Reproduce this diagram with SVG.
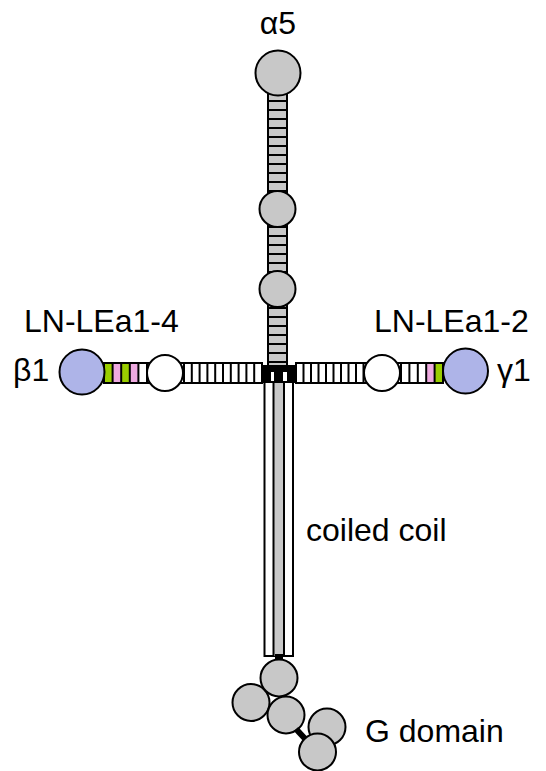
<svg xmlns="http://www.w3.org/2000/svg" width="546" height="771" viewBox="0 0 546 771">
  <style>
    .ln { stroke: #000; stroke-width: 2; fill: none; }
    .gy { fill: #c8c8c8; stroke: #000; stroke-width: 2; }
    .wt { fill: #fff; stroke: #000; stroke-width: 2; }
    .bl { fill: #aeb4e8; stroke: #000; stroke-width: 2; }
    .gn { fill: #9acd00; }
    .pk { fill: #eeaae0; }
    .lbl { font-family: "Liberation Sans", Arial, sans-serif; font-size: 32px; fill: #000; }
  </style>

  <!-- alpha5 chain: rod with rungs and three globular domains -->
  <g id="alpha5">
    <rect class="gy" x="268" y="92" width="19" height="274"/>
    <path class="ln" d="M268 101h19M268 110h19M268 119h19M268 128h19M268 137h19M268 146h19M268 155h19M268 164h19M268 173h19M268 182h19M268 191h19M268 200h19M268 209h19M268 218h19M268 227h19M268 236h19M268 245h19M268 254h19M268 263h19M268 272h19M268 281h19M268 290h19M268 299h19M268 308h19M268 317h19M268 326h19M268 335h19M268 344h19M268 353h19M268 362h19"/>
    <circle class="gy" cx="278" cy="73" r="22.5"/>
    <circle class="gy" cx="277.5" cy="209" r="18"/>
    <circle class="gy" cx="277.5" cy="289" r="18"/>
    <text class="lbl" x="278" y="34" text-anchor="middle">α5</text>
  </g>

  <!-- beta1 short arm -->
  <g id="beta1">
    <rect class="gn" x="104" y="363" width="8.6" height="20"/>
    <rect class="pk" x="112.6" y="363" width="8.6" height="20"/>
    <rect class="gn" x="121.2" y="363" width="8.6" height="20"/>
    <rect class="pk" x="129.8" y="363" width="8.6" height="20"/>
    <rect class="wt" x="104" y="363" width="158" height="20" style="fill:none"/>
    <path class="ln" d="M112.6 363v20M121.2 363v20M129.8 363v20M138.4 363v20M147 363v20M184 363v20M191.8 363v20M199.6 363v20M207.4 363v20M215.2 363v20M223 363v20M230.8 363v20M238.6 363v20M246.4 363v20M254.2 363v20"/>
    <circle class="wt" cx="165" cy="373" r="18"/>
    <circle class="bl" cx="82" cy="372" r="22.5"/>
    <text class="lbl" x="24" y="332">LN-LEa1-4</text>
    <text class="lbl" x="13" y="381">β1</text>
  </g>

  <!-- gamma1 short arm -->
  <g id="gamma1">
    <rect class="pk" x="426.2" y="363" width="8.4" height="20"/>
    <rect class="gn" x="434.6" y="363" width="8.4" height="20"/>
    <rect class="wt" x="296" y="363" width="147" height="20" style="fill:none"/>
    <path class="ln" d="M303.5 363v20M311 363v20M318.5 363v20M326 363v20M333.5 363v20M341 363v20M348.5 363v20M356 363v20M363.5 363v20M401 363v20M409.4 363v20M417.8 363v20M426.2 363v20M434.6 363v20"/>
    <circle class="wt" cx="382" cy="373" r="18"/>
    <circle class="bl" cx="465.5" cy="371" r="22.5"/>
    <text class="lbl" x="374" y="332">LN-LEa1-2</text>
    <text class="lbl" x="497" y="381">γ1</text>
  </g>

  <!-- coiled coil: three stranded rod -->
  <g id="coiled-coil">
    <rect class="wt" x="264.5" y="382" width="28.5" height="274"/>
    <rect x="273.5" y="382" width="10.5" height="274" fill="#c8c8c8"/>
    <path class="ln" d="M273.5 382v274M284 382v274"/>
    <text class="lbl" x="306" y="541">coiled coil</text>
  </g>

  <!-- junction where the three chains meet -->
  <g id="junction" fill="#000">
    <rect x="262" y="365" width="34" height="7"/>
    <rect x="274" y="365" width="9" height="18"/>
    <rect x="262" y="371" width="9" height="12"/>
    <rect x="287" y="371" width="9" height="12"/>
  </g>

  <!-- G domain: five globular modules -->
  <g id="g-domain">
    <rect x="275" y="654" width="8" height="9" fill="#000"/>
    <circle class="gy" cx="251" cy="702.5" r="18.5"/>
    <circle class="gy" cx="279" cy="678" r="18.5"/>
    <circle class="gy" cx="286" cy="715" r="18.5"/>
    <circle class="gy" cx="327" cy="727" r="18.5"/>
    <path d="M296 729L309 743" stroke="#000" stroke-width="6"/>
    <circle class="gy" cx="317.5" cy="752" r="18.5"/>
    <text class="lbl" x="365" y="742">G domain</text>
  </g>
</svg>
